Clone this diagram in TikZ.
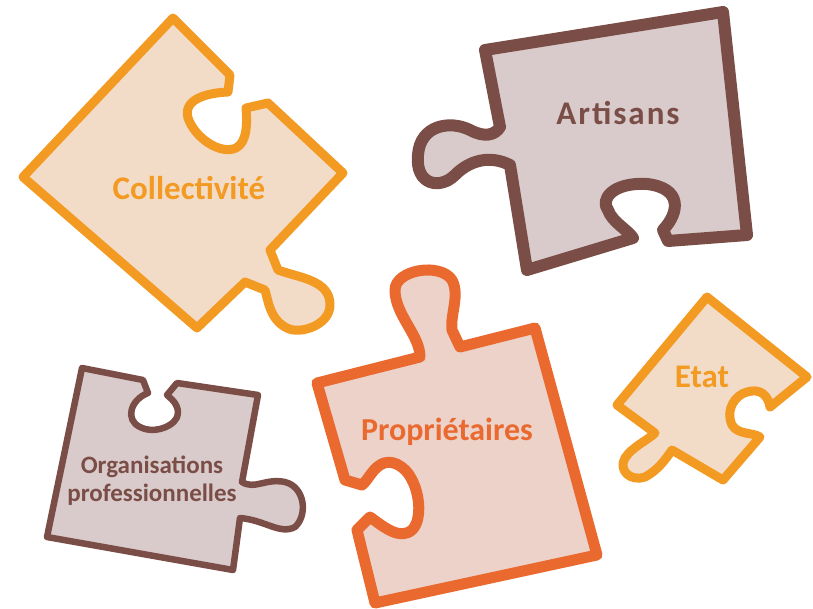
\documentclass[tikz,border=0pt]{standalone}
\usepackage{fontspec}
\setmainfont{Carlito}
\newfontfamily\spacedfont{Carlito}[LetterSpace=6]
\usetikzlibrary{decorations.pathmorphing}
\definecolor{orangeS}{HTML}{F29A21}
\definecolor{orangeF}{HTML}{F2DCC7}
\definecolor{brownS}{HTML}{7A4E47}
\definecolor{brownF}{HTML}{D9CBCB}
\definecolor{redS}{HTML}{E9692F}
\definecolor{redF}{HTML}{EDD2CA}
\begin{document}
\begin{tikzpicture}[x=1pt,y=-1pt,
  piece/.style={line join=round, line cap=round},
  orangepiece/.style={piece, draw=orangeS, fill=orangeF, line width=9pt},
  brownpiece/.style={piece, draw=brownS, fill=brownF, line width=12pt},
  redpiece/.style={piece, draw=redS, fill=redF, line width=11pt},
  rough/.style={draw=#1, line width=3pt, line join=round, decorate,
    decoration={random steps, segment length=3pt, amplitude=2.2pt}},
  lbl/.style={font=\bfseries\fontsize{33}{36}\selectfont, inner sep=0pt}]
\useasboundingbox (0,0) rectangle (813,608);
\pgfmathsetseed{7}

% Collectivite
\def\collpath{(173,18) -- (230,75) -- (228,92)
  .. controls (205,93) and (183,100) .. (188,118)
  .. controls (195,138) and (220,155) .. (236,148)
  .. controls (248,142) and (247,120) .. (246,108)
  -- (268,103) -- (343,173) -- (270,250) -- (278,270)
  .. controls (300,278) and (330,280) .. (330,305)
  .. controls (330,325) and (300,335) .. (287,328)
  .. controls (270,320) and (268,300) .. (265,290)
  -- (245,282) -- (197,328) -- (23,177) -- cycle}
\path[orangepiece] \collpath;
\path[rough=orangeS] \collpath;
\node[lbl, text=orangeS] (coll) at (189,188) {Collectivité};

% Artisans
\def\artpath{(485,50) -- (723,12) -- (747,235) -- (668,241) -- (663,230)
  .. controls (680,212) and (682,188) .. (647,184)
  .. controls (612,182) and (600,200) .. (608,210)
  .. controls (612,222) and (628,230) .. (633,238)
  -- (527,270) -- (510,165)
  .. controls (490,155) and (470,160) .. (455,175)
  .. controls (440,190) and (415,185) .. (418,155)
  .. controls (420,125) and (450,120) .. (470,130)
  .. controls (485,138) and (495,135) .. (500,127) -- cycle}
\path[brownpiece] \artpath;
\path[rough=brownS] \artpath;
\node[lbl, text=brownS, font=\spacedfont\bfseries\fontsize{33}{36}\selectfont] (art) at (618,113) {Artisans};

% Organisations professionnelles
\def\orgpath{(82,368) -- (143,380) -- (148,393)
  .. controls (130,400) and (125,420) .. (140,427)
  .. controls (155,435) and (178,425) .. (178,413)
  .. controls (178,403) and (170,398) .. (167,395)
  -- (177,383) -- (258,395) -- (242,482)
  .. controls (255,490) and (265,478) .. (285,482)
  .. controls (305,487) and (308,515) .. (295,527)
  .. controls (280,535) and (265,520) .. (240,518)
  -- (233,570) -- (47,537) -- cycle}
\path[brownpiece, line width=6.5pt] \orgpath;
\path[rough=brownS, line width=2pt, decoration={amplitude=1.5pt}] \orgpath;
\node[lbl, text=brownS, font=\bfseries\fontsize{25}{28}\selectfont, align=center] (org) at (152,481) {Organisations\\professionnelles};

% Proprietaires
\def\proppath{(317,383) -- (420,357)
  .. controls (420,335) and (395,315) .. (395,290)
  .. controls (395,270) and (440,262) .. (452,280)
  .. controls (460,295) and (450,315) .. (452,330)
  -- (460,347) -- (535,328) -- (597,555) -- (375,603) -- (357,530) -- (370,517)
  .. controls (385,528) and (400,540) .. (412,530)
  .. controls (422,520) and (420,495) .. (412,480)
  .. controls (405,465) and (390,458) .. (380,465)
  .. controls (372,470) and (368,480) .. (362,485)
  -- (345,480) -- cycle}
\path[redpiece] \proppath;
\path[rough=redS] \proppath;
\node[lbl, text=redS, font=\bfseries\fontsize{32}{36}\selectfont] (prop) at (447,432) {Propriétaires};

% Etat
\def\etatpath{(707,297) -- (807,377) -- (770,407)
  .. controls (768,395) and (760,388) .. (747,392)
  .. controls (735,395) and (725,410) .. (732,425)
  .. controls (738,435) and (752,432) .. (760,437)
  -- (723,480) -- (672,450)
  .. controls (665,460) and (658,470) .. (645,477)
  .. controls (630,482) and (618,470) .. (625,458)
  .. controls (632,447) and (648,440) .. (655,433)
  -- (617,405) -- cycle}
\path[orangepiece] \etatpath;
\path[rough=orangeS] \etatpath;
\node[lbl, text=orangeS] (etat) at (702,377) {Etat};
\end{tikzpicture}
\end{document}
